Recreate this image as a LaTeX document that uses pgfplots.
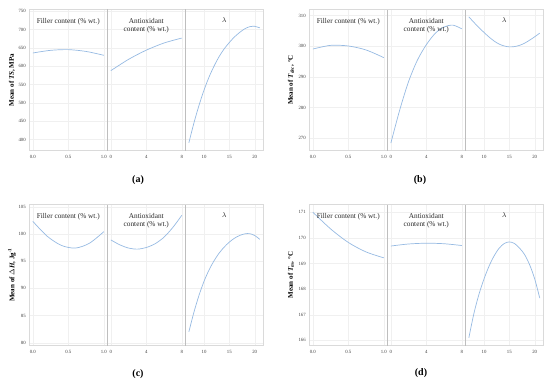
\documentclass[border=0pt]{standalone}
\usepackage{pgfplots}
\pgfplotsset{compat=1.18}
\usepackage{fontspec}
\setmainfont{Liberation Serif}
\definecolor{curve}{RGB}{150,186,226}
\definecolor{frame}{RGB}{218,218,218}
\definecolor{sep}{RGB}{190,190,190}
\pgfplotsset{
  sub/.style={scale only axis, width=78pt, height=141pt, anchor=south west,
    axis line style={frame, line width=0.4pt}, tick style={draw=none},
    grid=major, major grid style={gray!12, line width=0.3pt},
    ticklabel style={font=\fontsize{4.8}{5}\selectfont, text=black!75},
    /pgf/number format/assume math mode=true,
    xticklabel style={yshift=-1pt},
    clip=false},
  p1/.style={sub, xmin=-0.05, xmax=1.05, xtick={0,0.5,1}, xticklabels={0.0,0.5,1.0}},
  p2/.style={sub, xmin=-0.4, xmax=8.4, xtick={0,4,8}, xticklabels={0,4,8}, yticklabels={},
    after end axis/.code={\draw[sep, line width=0.5pt] (rel axis cs:0,0) -- (rel axis cs:0,1);}},
  p3/.style={sub, xmin=6.3, xmax=21.7, xtick={10,15,20}, xticklabels={10,15,20}, yticklabels={},
    after end axis/.code={\draw[sep, line width=0.5pt] (rel axis cs:0,0) -- (rel axis cs:0,1);}},
  ra/.style={ymin=370, ymax=755, ytick={400,450,...,750}},
  rb/.style={ymin=266, ymax=312, ytick={270,280,...,310}},
  rc/.style={ymin=79.5, ymax=105.4, ytick={80,85,...,105}},
  rd/.style={ymin=165.8, ymax=171.3, ytick={166,167,...,171}},
  cv/.style={curve, line width=0.7pt, smooth, no marks},
}
\newcommand{\tA}{\node[font=\fontsize{7.3}{8}\selectfont, text=black!85, anchor=north] at (rel axis cs:0.5,0.965) {Filler content (\% wt.)};}
\newcommand{\tB}{\node[font=\fontsize{7.3}{8.3}\selectfont, text=black!85, anchor=north, align=center] at (rel axis cs:0.5,0.965) {Antioxidant\\content (\% wt.)};}
\newcommand{\tC}{\node[font=\fontsize{7.3}{8}\selectfont, text=black!85, anchor=north] at (rel axis cs:0.5,0.965) {$\lambda$};}
\newcommand{\ylab}{\fontsize{7}{8}\selectfont\bfseries}
\begin{document}
\begin{tikzpicture}[x=1pt,y=1pt]
\path (0,0) rectangle (550,384);
% ---------------- (a)
\begin{axis}[p1, ra, at={(29.3pt,233.5pt)}]
\addplot[cv] coordinates {(0,636.3) (0.25,643.5) (0.5,645.4) (0.75,640.5) (1,630)};
\tA
\end{axis}
\begin{axis}[p2, ra, at={(107.3pt,233.5pt)}]
\addplot[cv] coordinates {(0,588) (2,618.9) (4,644) (6,663.5) (8,677)};
\tB
\end{axis}
\begin{axis}[p3, ra, at={(185.3pt,233.5pt)}]
\addplot[cv] coordinates {(7,391) (8,445) (9,493) (10,535) (11,571) (12,601) (13,627) (14,648) (15,665) (16,680) (17,692) (18,702) (19,708) (20,709) (21,705)};
\tC
\end{axis}
\node[rotate=90, font=\ylab] at (12,304) {Mean of \textit{TS}, MPa};
\node[font=\fontsize{10}{11}\selectfont\bfseries] at (138,204) {(a)};
% ---------------- (b)
\begin{axis}[p1, rb, at={(309.3pt,233.5pt)}]
\addplot[cv] coordinates {(0,299.1) (0.25,300.3) (0.5,300.1) (0.75,298.8) (1,296.3)};
\tA
\end{axis}
\begin{axis}[p2, rb, at={(387.3pt,233.5pt)}]
\addplot[cv] coordinates {(0,268.4) (1,279.2) (2,288.5) (3,295.5) (4,300.5) (5,304.2) (6,306.3) (7,306.9) (8,305.7)};
\tB
\end{axis}
\begin{axis}[p3, rb, at={(465.3pt,233.5pt)}]
\addplot[cv] coordinates {(7,309.6) (8,307.8) (9,306.1) (10,304.5) (11,303.0) (12,301.7) (13,300.7) (14,300.1) (15,299.8) (16,299.9) (17,300.3) (18,301.0) (19,302.0) (20,303.1) (21,304.3)};
\tC
\end{axis}
\node[rotate=90, font=\ylab] at (291,304) {Mean of \textit{T}\textsubscript{\textit{dec}}, \textdegree C};
\node[font=\fontsize{10}{11}\selectfont\bfseries] at (420,204) {(b)};
% ---------------- (c)
\begin{axis}[p1, rc, at={(29.3pt,38.5pt)}]
\addplot[cv] coordinates {(0,102.3) (0.2,99.6) (0.4,97.9) (0.6,97.4) (0.8,98.3) (1.0,100.4)};
\tA
\end{axis}
\begin{axis}[p2, rc, at={(107.3pt,38.5pt)}]
\addplot[cv] coordinates {(0,98.9) (1,98.0) (2,97.4) (3,97.2) (4,97.5) (5,98.2) (6,99.4) (7,101.2) (8,103.4)};
\tB
\end{axis}
\begin{axis}[p3, rc, at={(185.3pt,38.5pt)}]
\addplot[cv] coordinates {(7,82.0) (8,85.6) (9,88.7) (10,91.3) (11,93.4) (12,95.1) (13,96.5) (14,97.6) (15,98.5) (16,99.2) (17,99.7) (18,100.0) (19,100.05) (20,99.7) (21,99.0)};
\tC
\end{axis}
\node[rotate=90, font=\ylab] at (12,109) {Mean of $\Delta$\textit{H}, Jg\textsuperscript{-1}};
\node[font=\fontsize{10}{11}\selectfont\bfseries] at (138,10) {(c)};
% ---------------- (d)
\begin{axis}[p1, rd, at={(309.3pt,38.5pt)}]
\addplot[cv] coordinates {(0,171.0) (0.25,170.35) (0.5,169.82) (0.75,169.45) (1,169.22)};
\tA
\end{axis}
\begin{axis}[p2, rd, at={(387.3pt,38.5pt)}]
\addplot[cv] coordinates {(0,169.68) (2,169.76) (4,169.79) (6,169.77) (8,169.70)};
\tB
\end{axis}
\begin{axis}[p3, rd, at={(465.3pt,38.5pt)}]
\addplot[cv] coordinates {(7,166.1) (8,167.05) (9,167.8) (10,168.4) (11,168.9) (12,169.3) (13,169.6) (14,169.78) (15,169.84) (16,169.78) (17,169.6) (18,169.35) (19,168.95) (20,168.4) (21,167.65)};
\tC
\end{axis}
\node[rotate=90, font=\ylab] at (291,109) {Mean of \textit{T}\textsubscript{\textit{m}}, \textdegree C};
\node[font=\fontsize{10}{11}\selectfont\bfseries] at (421,11) {(d)};
\end{tikzpicture}
\end{document}
